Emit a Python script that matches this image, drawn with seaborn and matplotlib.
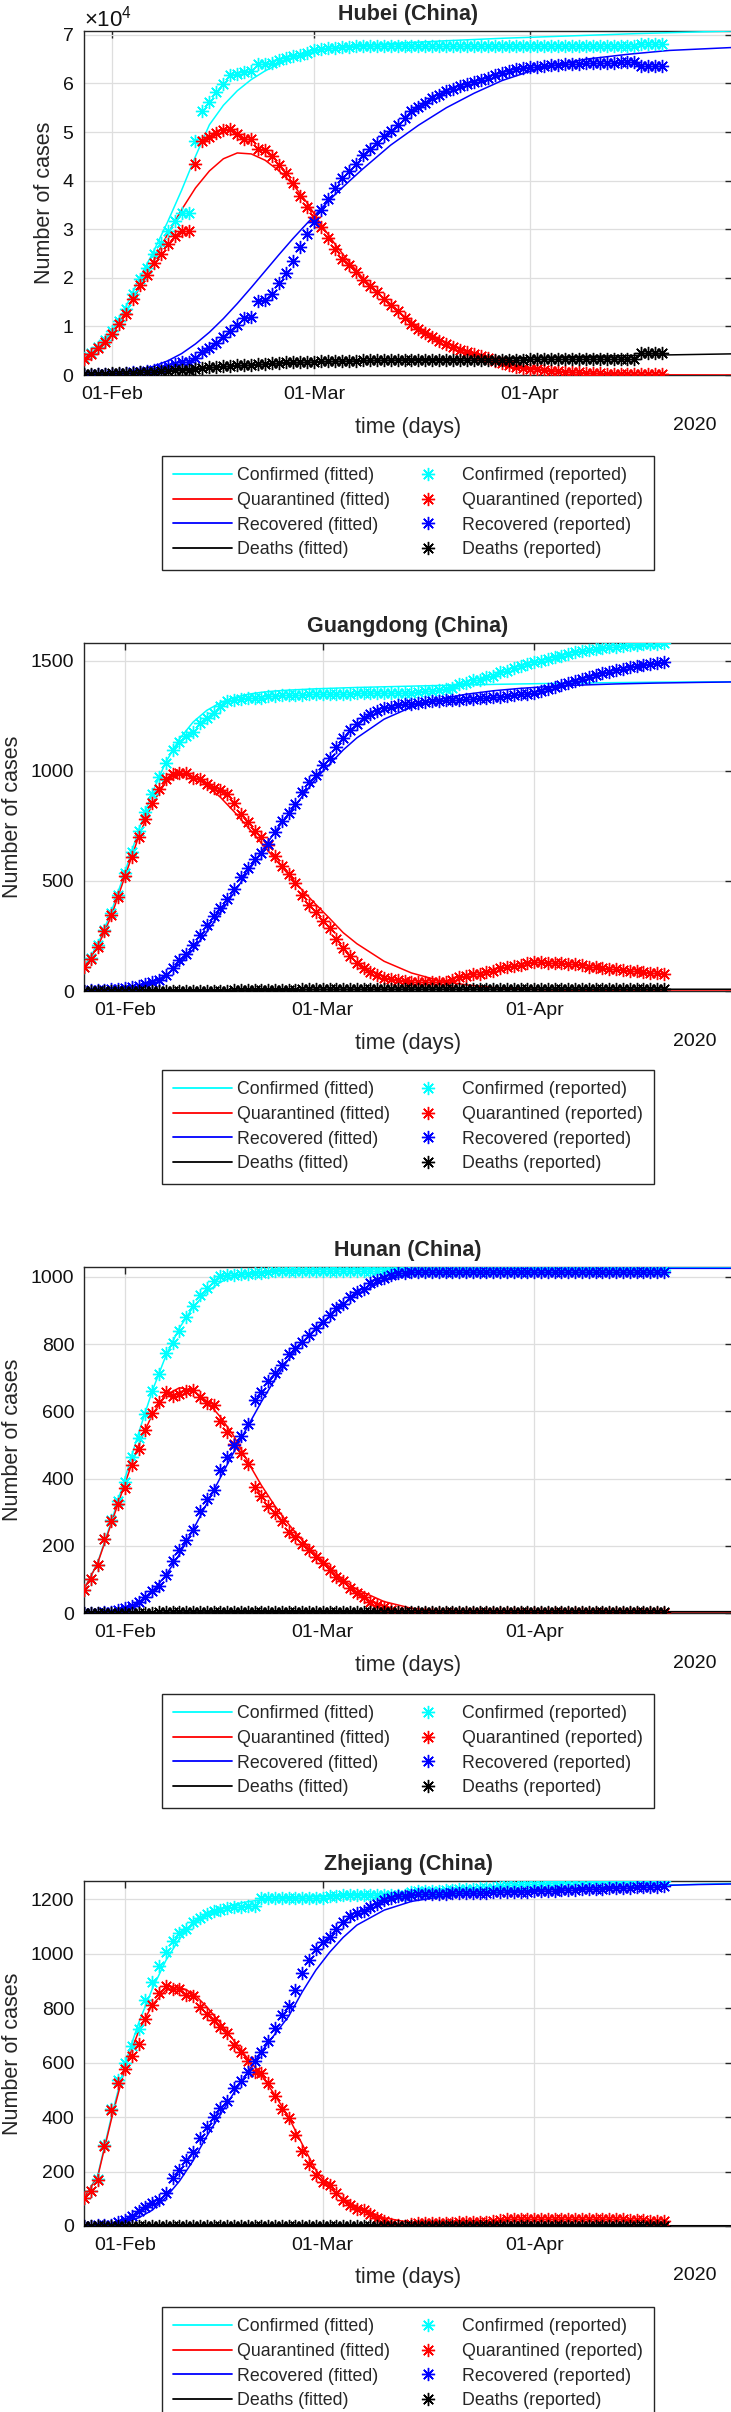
import numpy as np
import pandas as pd
import matplotlib
matplotlib.use("Agg")
import matplotlib.pyplot as plt
import matplotlib.dates as mdates
from matplotlib.lines import Line2D
from matplotlib.ticker import ScalarFormatter
import seaborn as sns

# ---------------- data ----------------
legend_labels_fitted = ["Confirmed (fitted)", "Quarantined (fitted)", "Recovered (fitted)", "Deaths (fitted)"]
legend_labels_reported = ["Confirmed (reported)", "Quarantined (reported)", "Recovered (reported)", "Deaths (reported)"]
xtick_dates = ["2020-02-01", "2020-03-01", "2020-04-01"]
x_end = "2020-04-30"

# Hubei: reported daily from 2020-01-28
hubei_start = "2020-01-28"
hubei_confirmed = [3554, 4586, 5806, 7153,
    9074, 11177, 13522, 16678, 19665, 22112, 24953, 27100, 29631, 31728, 33366, 33366, 48206, 54406, 56249,
    58182, 59989, 61682, 62031, 62442, 62662, 64084, 64084, 64287, 64786, 65187, 65596, 65914, 66337,
    66907, 67103, 67217, 67332, 67466, 67592, 67666, 67707, 67743, 67760, 67773, 67781, 67786, 67790, 67794,
    67798, 67799, 67800, 67800, 67800, 67800, 67800, 67800, 67801, 67801, 67801, 67801, 67801, 67801, 67801, 67801,
    67802, 67802, 67802, 67803, 67803, 67803, 67803, 67803, 67803, 67803, 67803, 67803, 67803, 67803, 67803, 67803,
    68128, 68128, 68128, 68128]
hubei_quarantined = [3349, 4334, 5486, 6738,
    8509, 10468, 12647, 15679, 18483, 20677, 23139, 24881, 26965, 28532, 29659, 29612, 43437, 48175, 49030,
    49847, 50338, 50633, 49665, 48510, 48637, 46439, 46395, 45044, 43252, 41603, 39572, 36829, 34617,
    32610, 30366, 28174, 25904, 23972, 22628, 21207, 19486, 18247, 16993, 15593, 14407, 13171, 11755, 10421,
    9557, 8685, 7751, 6988, 6285, 5715, 5223, 4765, 4317, 3827, 3431, 2895, 2526, 2049, 1726, 1461,
    1283, 1132, 987, 834, 748, 646, 577, 517, 447, 400, 348, 305, 272, 246, 223, 207, 116, 116, 116, 116]
hubei_recovered = [80, 90, 116, 166,
    215, 295, 396, 520, 633, 817, 1115, 1439, 1795, 2222, 2639, 2686, 3459, 4774, 5623,
    6639, 7862, 9128, 10337, 11788, 11881, 15299, 15343, 16748, 18971, 20969, 23383, 26403, 28993,
    31536, 33934, 36208, 38557, 40592, 42033, 43500, 45235, 46488, 47743, 49134, 50318, 51553, 52960, 54288,
    55142, 56003, 56927, 57682, 58382, 58946, 59433, 59882, 60324, 60811, 61201, 61732, 62098, 62570, 62889, 63153,
    63326, 63471, 63612, 63762, 63845, 63945, 64014, 64073, 64141, 64187, 64236, 64279, 64312, 64338, 64359, 64374,
    63500, 63500, 63500, 63500]
hubei_deaths = [125, 162, 204, 249,
    350, 414, 479, 479, 549, 618, 699, 780, 871, 974, 1068, 1068, 1310, 1457, 1596,
    1696, 1789, 1921, 2029, 2144, 2144, 2346, 2346, 2495, 2563, 2615, 2641, 2682, 2727,
    2761, 2803, 2835, 2871, 2902, 2931, 2959, 2986, 3008, 3024, 3046, 3056, 3062, 3075, 3085,
    3099, 3111, 3122, 3130, 3133, 3139, 3144, 3153, 3160, 3163, 3169, 3174, 3177, 3182, 3186, 3187,
    3193, 3199, 3203, 3207, 3210, 3212, 3212, 3213, 3215, 3216, 3219, 3219, 3219, 3219, 3221, 3222,
    4512, 4512, 4512, 4512]
hubei_fit_days = [0, 2, 4, 6, 8, 10, 12, 14, 16, 18, 20, 22, 24, 26, 28, 30, 32, 34, 36, 38, 40,
                  44, 48, 52, 56, 60, 64, 68, 72, 78, 84, 93]
hubei_fit_confirmed = [3500, 5600, 9000, 14000, 20000, 25500, 31500, 38000, 45000, 51500, 55500, 58500, 60800,
                       62600, 64000, 65200, 66200, 66900, 67300, 67600, 67850,
                       68200, 68500, 68800, 69050, 69300, 69500, 69700, 69900, 70200, 70450, 70800]
hubei_fit_quarantined = [3300, 5300, 8500, 13000, 18000, 23500, 29000, 34000, 38500, 42000, 44500, 45700, 45500,
                         44200, 42000, 39200, 35500, 31000, 27000, 23300, 20000,
                         14300, 9800, 6500, 4100, 2500, 1400, 750, 380, 130, 40, 8]
hubei_fit_recovered = [100, 200, 350, 650, 1100, 1800, 2900, 4400, 6400, 8800, 11600, 14700, 18000,
                       21400, 24800, 28100, 31200, 34200, 37100, 39800, 42400,
                       47300, 51400, 55000, 58000, 60600, 62500, 63900, 65000, 66000, 66800, 67400]
hubei_fit_deaths = [125, 220, 350, 500, 650, 800, 960, 1120, 1300, 1480, 1670, 1850, 2020,
                    2180, 2330, 2460, 2580, 2680, 2770, 2850, 2920,
                    3040, 3150, 3260, 3370, 3480, 3590, 3700, 3810, 3980, 4140, 4350]

# Guangdong / Hunan / Zhejiang: reported daily from 2020-01-26
other_start = "2020-01-26"
other_fit_days = [0, 2, 4, 6, 8, 10, 12, 14, 16, 18, 20, 22, 24, 26, 28, 30, 32, 34, 36, 38, 40,
                  44, 48, 52, 56, 60, 64, 68, 72, 78, 84, 90, 95]

guangdong_confirmed = [111, 151, 207, 277, 354, 436,
    535, 632, 725, 813, 895, 970, 1034, 1095, 1131, 1159, 1177, 1219, 1241, 1261, 1294,
    1316, 1322, 1328, 1331, 1332, 1333, 1339, 1342, 1345, 1347, 1347, 1347, 1348, 1349,
    1349, 1350, 1350, 1350, 1351, 1352, 1352, 1352, 1352, 1353, 1356, 1356, 1356, 1356, 1360,
    1361, 1364, 1367, 1370, 1378, 1395, 1400, 1413, 1415, 1428, 1433, 1448, 1456, 1467, 1475, 1484,
    1494, 1501, 1507, 1516, 1524, 1532, 1539, 1545, 1547, 1553, 1558, 1561, 1564, 1567, 1570,
    1573, 1575, 1577, 1578, 1579]
guangdong_quarantined = [109, 147, 202, 272, 344, 425,
    521, 611, 700, 780, 853, 917, 962, 988, 989, 991, 967, 965, 939, 920, 914,
    896, 853, 806, 767, 729, 698, 664, 612, 567, 531, 490, 437, 391, 361,
    317, 284, 234, 194, 159, 129, 106, 86, 72, 61, 56, 50, 46, 42, 42,
    40, 40, 41, 42, 48, 63, 66, 77, 77, 88, 91, 103, 108, 115, 119, 125,
    131, 131, 129, 128, 126, 124, 121, 118, 111, 109, 106, 102, 98, 94, 91,
    89, 86, 83, 80, 77]
guangdong_recovered = [2, 4, 5, 5, 10, 11,
    14, 20, 24, 32, 41, 52, 71, 106, 141, 167, 209, 253, 300, 339, 378,
    418, 465, 517, 559, 598, 629, 669, 724, 772, 810, 851, 903, 950, 981,
    1025, 1059, 1108, 1148, 1184, 1215, 1238, 1258, 1272, 1284, 1292, 1298, 1302, 1306, 1310,
    1313, 1316, 1318, 1320, 1322, 1324, 1326, 1328, 1330, 1332, 1334, 1337, 1340, 1344, 1348, 1351,
    1355, 1362, 1370, 1380, 1390, 1400, 1410, 1419, 1428, 1436, 1444, 1451, 1458, 1465, 1471,
    1476, 1481, 1486, 1490, 1494]
guangdong_deaths = [0, 0, 0, 0, 0, 0,
    0, 1, 1, 1, 1, 1, 1, 1, 1, 1, 1, 1, 2, 2, 2,
    2, 4, 5, 5, 5, 6, 6, 6, 6, 6, 6, 7, 7, 7,
    7, 7, 8, 8, 8, 8, 8, 8, 8, 8, 8, 8, 8, 8, 8,
    8, 8, 8, 8, 8, 8, 8, 8, 8, 8, 8, 8, 8, 8, 8, 8,
    8, 8, 8, 8, 8, 8, 8, 8, 8, 8, 8, 8, 8, 8, 8,
    8, 8, 8, 8, 8]
guangdong_fit_confirmed = [110, 210, 360, 540, 730, 900, 1040, 1145, 1222, 1275, 1310, 1333, 1348, 1357,
                           1363, 1367, 1370, 1373, 1375, 1377, 1379,
                           1382, 1385, 1388, 1390, 1393, 1395, 1397, 1399, 1401, 1403, 1404, 1405]
guangdong_fit_quarantined = [108, 200, 340, 520, 700, 850, 950, 985, 975, 935, 880, 815, 745, 672,
                             600, 528, 458, 393, 330, 265, 215,
                             135, 82, 48, 28, 16, 9, 5, 3, 1, 0, 0, 0]
guangdong_fit_recovered = [0, 1, 3, 8, 18, 38, 72, 122, 188, 268, 355, 447, 540, 633,
                           722, 806, 884, 965, 1030, 1095, 1150,
                           1235, 1290, 1325, 1348, 1364, 1375, 1383, 1389, 1395, 1399, 1402, 1404]
guangdong_fit_deaths = [0, 0, 0, 0.5, 1, 1.5, 2, 2.5, 3, 3.5, 4, 4.5, 5, 5.5,
                        6, 6.3, 6.6, 6.9, 7.1, 7.3, 7.5,
                        7.7, 7.8, 7.9, 8, 8, 8, 8, 8, 8, 8, 8, 8]

hunan_confirmed = [69, 100, 143, 221, 277, 332,
    389, 463, 521, 593, 661, 711, 772, 803, 838, 879, 912, 946, 968, 988, 1001,
    1004, 1006, 1007, 1008, 1010, 1011, 1013, 1016, 1016, 1016, 1016, 1017, 1017, 1018,
    1018, 1018, 1018, 1018, 1018, 1018, 1018, 1018, 1018, 1018, 1018, 1018, 1018, 1018, 1018,
    1018, 1018, 1018, 1018, 1018, 1018, 1018, 1018, 1018, 1018, 1018, 1018, 1018, 1018, 1018, 1018,
    1019, 1019, 1019, 1019, 1019, 1019, 1019, 1019, 1019, 1019, 1019, 1019, 1019, 1019, 1019,
    1019, 1019, 1019, 1019, 1019]
hunan_quarantined = [69, 100, 143, 219, 275, 324,
    372, 441, 487, 545, 595, 628, 658, 645, 650, 659, 662, 641, 626, 619, 572,
    538, 502, 476, 442, 374, 349, 318, 297, 274, 242, 225, 206, 186, 167,
    148, 128, 108, 95, 73, 59, 49, 34, 24, 17, 9, 4, 2, 1, 1,
    0, 0, 0, 0, 0, 0, 0, 0, 0, 0, 0, 0, 0, 0, 0, 0,
    1, 1, 1, 1, 1, 1, 1, 1, 1, 1, 1, 1, 1, 1, 1,
    1, 1, 1, 1, 1]
hunan_recovered = [0, 0, 0, 2, 2, 8,
    16, 21, 33, 47, 65, 81, 112, 156, 186, 218, 248, 302, 339, 366, 426,
    463, 500, 527, 562, 632, 658, 691, 715, 738, 770, 787, 807, 827, 847,
    866, 886, 906, 919, 941, 955, 965, 980, 990, 997, 1005, 1010, 1012, 1013, 1013,
    1014, 1014, 1014, 1014, 1014, 1014, 1014, 1014, 1014, 1014, 1014, 1014, 1014, 1014, 1014, 1014,
    1014, 1014, 1014, 1014, 1014, 1014, 1014, 1014, 1014, 1014, 1014, 1014, 1014, 1014, 1014,
    1014, 1014, 1014, 1014, 1014]
hunan_deaths = [0, 0, 0, 0, 0, 0,
    1, 1, 1, 1, 1, 2, 2, 2, 2, 2, 2, 3, 3, 3, 3,
    3, 4, 4, 4, 4, 4, 4, 4, 4, 4, 4, 4, 4, 4,
    4, 4, 4, 4, 4, 4, 4, 4, 4, 4, 4, 4, 4, 4, 4,
    4, 4, 4, 4, 4, 4, 4, 4, 4, 4, 4, 4, 4, 4, 4, 4,
    4, 4, 4, 4, 4, 4, 4, 4, 4, 4, 4, 4, 4, 4, 4,
    4, 4, 4, 4, 4]
hunan_fit_confirmed = [70, 150, 272, 400, 535, 660, 765, 848, 910, 955, 984, 1001, 1010, 1015,
                       1018, 1020, 1021, 1022, 1023, 1023, 1024,
                       1025, 1025, 1026, 1026, 1026, 1027, 1027, 1027, 1027, 1028, 1028, 1028]
hunan_fit_quarantined = [70, 148, 266, 385, 500, 590, 648, 670, 662, 630, 583, 525, 450, 380,
                         318, 264, 216, 174, 137, 98, 70,
                         34, 14, 6, 2, 1, 0, 0, 0, 0, 0, 0, 0]
hunan_fit_recovered = [0, 1, 4, 12, 30, 64, 112, 175, 248, 325, 403, 480, 555, 628,
                       695, 755, 805, 847, 883, 918, 948,
                       988, 1008, 1017, 1021, 1023, 1024, 1024, 1025, 1025, 1025, 1025, 1025]
hunan_fit_deaths = [0, 0, 0, 0.5, 1, 1.5, 2, 2.5, 3, 3.3, 3.6, 3.8, 4, 4,
                    4, 4, 4, 4, 4, 4, 4,
                    4, 4, 4, 4, 4, 4, 4, 4, 4, 4, 4, 4]

zhejiang_confirmed = [104, 128, 173, 296, 428, 538,
    599, 661, 724, 829, 895, 954, 1006, 1048, 1075, 1092, 1117, 1131, 1145, 1155, 1162,
    1167, 1171, 1172, 1174, 1175, 1203, 1205, 1205, 1205, 1205, 1205, 1205, 1205, 1205,
    1206, 1213, 1213, 1215, 1215, 1215, 1215, 1215, 1215, 1215, 1215, 1215, 1215, 1227, 1231,
    1231, 1232, 1232, 1233, 1234, 1236, 1238, 1238, 1240, 1241, 1243, 1247, 1251, 1254, 1255, 1255,
    1255, 1257, 1258, 1259, 1260, 1262, 1263, 1264, 1264, 1266, 1267, 1267, 1267, 1267, 1267,
    1267, 1267, 1267, 1267, 1267]
zhejiang_quarantined = [104, 128, 170, 293, 425, 524,
    578, 625, 668, 759, 812, 857, 883, 871, 871, 848, 846, 806, 779, 755, 729,
    707, 664, 638, 607, 567, 562, 524, 477, 430, 396, 336, 275, 228, 188,
    162, 149, 122, 97, 77, 64, 57, 44, 30, 17, 8, 3, 1, 9, 12,
    11, 11, 10, 11, 11, 13, 14, 14, 15, 16, 17, 21, 24, 26, 27, 26,
    25, 26, 26, 26, 26, 27, 27, 27, 26, 27, 27, 26, 25, 24, 23,
    22, 21, 20, 20, 19]
zhejiang_recovered = [0, 0, 3, 3, 3, 14,
    21, 36, 56, 70, 83, 97, 123, 177, 204, 244, 271, 325, 365, 399, 432,
    459, 506, 533, 566, 607, 640, 680, 727, 774, 808, 868, 929, 976, 1016,
    1043, 1063, 1090, 1117, 1137, 1150, 1157, 1170, 1184, 1197, 1206, 1211, 1213, 1217, 1218,
    1219, 1220, 1221, 1221, 1222, 1222, 1223, 1223, 1224, 1224, 1225, 1225, 1226, 1227, 1227, 1228,
    1229, 1230, 1231, 1232, 1233, 1234, 1235, 1236, 1237, 1238, 1239, 1240, 1241, 1242, 1243,
    1244, 1245, 1246, 1246, 1247]
zhejiang_deaths = [0, 0, 0, 0, 0, 0,
    0, 0, 0, 0, 0, 0, 0, 0, 0, 0, 0, 0, 1, 1, 1,
    1, 1, 1, 1, 1, 1, 1, 1, 1, 1, 1, 1, 1, 1,
    1, 1, 1, 1, 1, 1, 1, 1, 1, 1, 1, 1, 1, 1, 1,
    1, 1, 1, 1, 1, 1, 1, 1, 1, 1, 1, 1, 1, 1, 1, 1,
    1, 1, 1, 1, 1, 1, 1, 1, 1, 1, 1, 1, 1, 1, 1,
    1, 1, 1, 1, 1]
zhejiang_fit_confirmed = [104, 185, 400, 595, 745, 870, 975, 1055, 1108, 1143, 1166, 1181, 1191, 1198,
                          1203, 1207, 1210, 1212, 1214, 1216, 1218,
                          1221, 1224, 1227, 1230, 1233, 1237, 1240, 1243, 1247, 1251, 1255, 1258]
zhejiang_fit_quarantined = [104, 180, 390, 580, 715, 812, 866, 878, 855, 805, 745, 680, 615, 555,
                            480, 400, 300, 205, 140, 100, 70,
                            30, 12, 5, 2, 1, 0, 0, 0, 0, 0, 0, 0]
zhejiang_fit_recovered = [0, 2, 5, 14, 30, 58, 105, 165, 240, 330, 410, 490, 565, 640,
                          705, 770, 860, 940, 1005, 1060, 1105,
                          1160, 1192, 1208, 1217, 1224, 1230, 1235, 1240, 1245, 1250, 1254, 1256]
zhejiang_fit_deaths = [0, 0, 0, 0, 0, 0, 0, 0, 0.2, 0.5, 0.8, 1, 1, 1,
                       1, 1, 1, 1, 1, 1, 1,
                       1, 1, 1, 1, 1, 1, 1, 1, 1, 1, 1, 1]

# ---------------- style ----------------
sns.set_style("white")
plt.rcParams["font.family"] = ["Liberation Sans", "DejaVu Sans"]
plt.rcParams["mathtext.fontset"] = "custom"
plt.rcParams["mathtext.rm"] = "Liberation Sans"
plt.rcParams["mathtext.it"] = "Liberation Sans:italic"
plt.rcParams["mathtext.bf"] = "Liberation Sans:bold"

COLORS = ["#00FFFF", "#FF0000", "#0000FF", "#000000"]
AST = (8, 2, 0)
SPINE = "#262626"
W, H = 731, 2412

fig = plt.figure(figsize=(W / 100, H / 100), dpi=100)

panels = [
    dict(title="Hubei (China)", start=hubei_start, rep=[hubei_confirmed, hubei_quarantined, hubei_recovered, hubei_deaths],
         fdays=hubei_fit_days, fit=[hubei_fit_confirmed, hubei_fit_quarantined, hubei_fit_recovered, hubei_fit_deaths],
         top=31, bottom=375, ylim=(0, 70800), yticks=[0, 10000, 20000, 30000, 40000, 50000, 60000, 70000],
         ylab_x=45, leg_top=456, sci=True),
    dict(title="Guangdong (China)", start=other_start, rep=[guangdong_confirmed, guangdong_quarantined, guangdong_recovered, guangdong_deaths],
         fdays=other_fit_days, fit=[guangdong_fit_confirmed, guangdong_fit_quarantined, guangdong_fit_recovered, guangdong_fit_deaths],
         top=643, bottom=991, ylim=(0, 1581), yticks=[0, 500, 1000, 1500], ylab_x=13, leg_top=1070, sci=False),
    dict(title="Hunan (China)", start=other_start, rep=[hunan_confirmed, hunan_quarantined, hunan_recovered, hunan_deaths],
         fdays=other_fit_days, fit=[hunan_fit_confirmed, hunan_fit_quarantined, hunan_fit_recovered, hunan_fit_deaths],
         top=1267, bottom=1613, ylim=(0, 1029), yticks=[0, 200, 400, 600, 800, 1000], ylab_x=13, leg_top=1694, sci=False),
    dict(title="Zhejiang (China)", start=other_start, rep=[zhejiang_confirmed, zhejiang_quarantined, zhejiang_recovered, zhejiang_deaths],
         fdays=other_fit_days, fit=[zhejiang_fit_confirmed, zhejiang_fit_quarantined, zhejiang_fit_recovered, zhejiang_fit_deaths],
         top=1881, bottom=2226, ylim=(0, 1267), yticks=[0, 200, 400, 600, 800, 1000, 1200], ylab_x=13, leg_top=2307, sci=False),
]

AX_L, AX_W = 84, 648

for p in panels:
    h = p["bottom"] - p["top"]
    ax = fig.add_axes([AX_L / W, 1 - p["bottom"] / H, AX_W / W, h / H])
    start = pd.Timestamp(p["start"])
    rep_dates = pd.date_range(start, periods=len(p["rep"][0]), freq="D")
    fit_dates = start + pd.to_timedelta(p["fdays"], unit="D")

    for yv, col in zip(p["fit"], COLORS):
        sns.lineplot(x=fit_dates, y=yv, ax=ax, color=col, linewidth=1.1,
                     estimator=None, errorbar=None, sort=False, zorder=3)
    for yv, col in zip(p["rep"], COLORS):
        sns.lineplot(x=rep_dates, y=yv, ax=ax, color=col, linestyle="", marker=AST,
                     markersize=9.5, markeredgewidth=1.0, markeredgecolor=col,
                     estimator=None, errorbar=None, sort=False, zorder=4)

    ax.set_xlim(start, pd.Timestamp(x_end))
    ax.set_ylim(*p["ylim"])
    ax.set_xticks(pd.to_datetime(xtick_dates))
    ax.xaxis.set_major_formatter(mdates.DateFormatter("%d-%b"))
    ax.set_yticks(p["yticks"])
    if p["sci"]:
        fmt = ScalarFormatter(useMathText=True)
        fmt.set_powerlimits((0, 0))
        ax.yaxis.set_major_formatter(fmt)
        ax.yaxis.get_offset_text().set_fontsize(16)
    ax.grid(True, color="#dedede", linewidth=0.9)
    ax.set_axisbelow(True)
    for s in ax.spines.values():
        s.set_color(SPINE)
        s.set_linewidth(1.0)
        s.set_visible(True)
    ax.tick_params(direction="in", length=5, width=1.0, color=SPINE, top=True, right=True,
                   labelsize=14, labelcolor="#111111")
    ax.tick_params(axis="x", pad=8)
    ax.tick_params(axis="y", pad=7)

    ax.set_xlabel("time (days)", fontsize=15.5)
    ax.xaxis.set_label_coords(0.5, -52 / h)
    ax.xaxis.label.set_verticalalignment("center")
    ax.set_ylabel("Number of cases", fontsize=15.5)
    ax.yaxis.set_label_coords((p["ylab_x"] - AX_L) / AX_W, 0.5)
    ax.yaxis.label.set_verticalalignment("center")

    ax.text((716 - AX_L) / AX_W, -50 / h, "2020", transform=ax.transAxes,
            ha="right", va="center", fontsize=14, color="#111111")
    ax.text(0.5, 1 + 16.5 / h, p["title"], transform=ax.transAxes, ha="center", va="center",
            fontsize=15.5, fontweight="bold")

    handles, labels = [], []
    for col, lab in zip(COLORS, legend_labels_fitted):
        handles.append(Line2D([], [], color=col, linewidth=1.3))
        labels.append(lab)
    for col, lab in zip(COLORS, legend_labels_reported):
        handles.append(Line2D([], [], color=col, linestyle="", marker=AST, markersize=9.5,
                              markeredgewidth=1.0, markeredgecolor=col))
        labels.append(lab)
    leg = ax.legend(handles, labels, loc="upper left", bbox_to_anchor=(162 / W, 1 - p["leg_top"] / H),
                    bbox_transform=fig.transFigure, ncol=2, fontsize=12.8, frameon=True, fancybox=False,
                    edgecolor=SPINE, framealpha=1, borderpad=0.62, labelspacing=0.44, handlelength=3.3,
                    handletextpad=0.28, columnspacing=0.5, borderaxespad=0, numpoints=1)
    leg.get_frame().set_linewidth(1.0)

fig.savefig("out.png", dpi=100)
